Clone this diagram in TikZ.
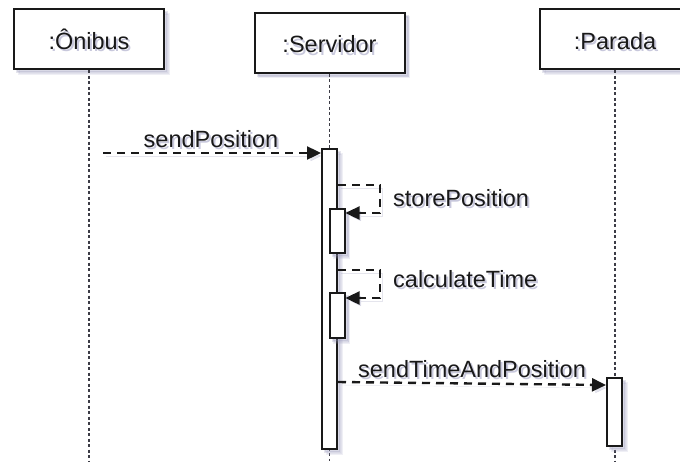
\documentclass[tikz,border=0pt]{standalone}
\usepackage{fontspec}
\setmainfont{Liberation Sans}
\usetikzlibrary{arrows.meta}
\definecolor{ink}{RGB}{25,25,25}
\definecolor{lifegray}{RGB}{60,60,70}
\definecolor{shade}{RGB}{150,150,185}
\definecolor{txtshade}{RGB}{200,200,220}
% text with a soft drop shadow behind it
\newcommand\shtxt[1]{\makebox[0pt][l]{\hspace{2pt}\raisebox{-2.5pt}{\textcolor{txtshade}{#1}}}#1}

\begin{document}
\begin{tikzpicture}[x=1pt,y=-1pt,
  softshadow/.style={
    preaction={fill=shade,draw=shade,opacity=0.15,transform canvas={shift={(4.5pt,-4.5pt)}}},
    preaction={fill=shade,draw=shade,opacity=0.25,transform canvas={shift={(3pt,-3pt)}}}},
  lineshadow/.style={
    preaction={draw=shade,opacity=0.25,transform canvas={shift={(2.5pt,-3pt)}}}},
  objbox/.style={draw=ink, line width=2pt, fill=white, minimum width=150pt,
    minimum height=60pt, inner sep=0pt, text height=20pt, text depth=0pt,
    font=\fontsize{23.5}{28}\selectfont, text=ink, softshadow},
  lifeline/.style={draw=lifegray, line width=1.2pt, dash pattern=on 3pt off 2.5pt},
  act/.style={draw=ink, line width=2pt, fill=white, minimum width=15pt,
    inner sep=0pt, anchor=north, softshadow},
  msg/.style={draw=ink, line width=2.4pt, dash pattern=on 8pt off 6pt,
    -{Triangle[length=14pt,width=13pt]}, lineshadow},
  lbl/.style={inner sep=0pt, font=\fontsize{23.5}{28}\selectfont, text=ink}
]
\useasboundingbox (0,0) rectangle (680,461);

% participants
\node[objbox] (onibus) at (89,39) {\shtxt{:Ônibus}};
\node[objbox] (servidor) at (329.5,42.5) {\shtxt{:Servidor}};
\node[objbox] (parada) at (615,39) {\shtxt{:Parada}};

% lifelines
\draw[lifeline] (onibus.south) -- (onibus.south |- 0,461);
\draw[lifeline] (servidor.south) -- (servidor.south |- 0,461);
\draw[lifeline] (parada.south) -- (parada.south |- 0,461);

% activations
\node[act, minimum height=300pt] (srvA) at (329.5,148) {};
\node[act, minimum height=44pt] (store) at (337,208) {};
\node[act, minimum height=45pt] (calc) at (337,292) {};
\node[act, minimum height=68pt] (parA) at (614.5,377) {};

% messages
\coordinate (sp0) at (103,153);
\draw[msg] (sp0) -- (srvA.west |- sp0);

\coordinate (st0) at (380,185);
\coordinate (st1) at (380,213);
\draw[msg] (srvA.east |- st0) -- (st0) -- (st1) -- (store.east |- st1);

\coordinate (ct0) at (380,270);
\coordinate (ct1) at (380,298);
\draw[msg] (srvA.east |- ct0) -- (ct0) -- (ct1) -- (calc.east |- ct1);

\coordinate (tp0) at (338,382);
\coordinate (tp1) at (0,385);
\draw[msg] (srvA.east |- tp0) -- (parA.west |- tp1);

% message labels
\node[lbl, anchor=base] (lsp) at (211,147) {\shtxt{sendPosition}};
\node[lbl, anchor=base west] (lst) at (393,206) {\shtxt{storePosition}};
\node[lbl, anchor=base west] (lct) at (393,287) {\shtxt{calculateTime}};
\node[lbl, anchor=base] (ltp) at (472,377) {\shtxt{sendTimeAndPosition}};
\end{tikzpicture}
\end{document}
